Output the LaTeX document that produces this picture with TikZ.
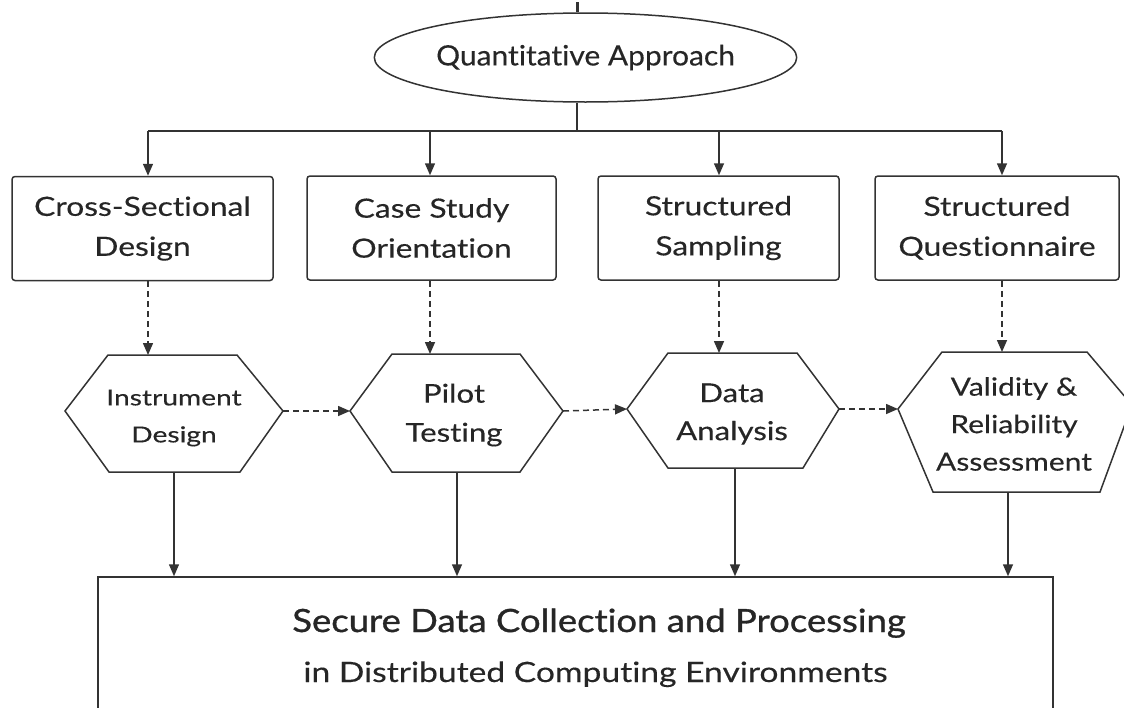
\documentclass[tikz,border=0pt]{standalone}
\usepackage{fontspec}
\defaultfontfeatures{Ligatures=CommonOff}
\setmainfont{Lato}[FakeStretch=1.2,FakeBold=0.3]
\newfontfamily\ellface{Lato}[FakeStretch=1.07,FakeBold=0.3]
\newfontfamily\hexone{Lato}[FakeStretch=1.28,FakeBold=0.3]
\newfontfamily\heavyface{Lato}[FakeStretch=1.14,FakeBold=1]
\usetikzlibrary{arrows.meta,shapes.geometric,calc}
\definecolor{ink}{HTML}{333333}
\definecolor{txt}{HTML}{262626}
\begin{document}
\begin{tikzpicture}[x=1pt,y=-1pt,
  line/.style={draw=ink,line width=1.5pt},
  arr/.style={line,-{Triangle[length=12pt,width=10pt]}},
  dasharr/.style={arr,dash pattern=on 6pt off 4pt},
  box/.style={draw=ink,line width=1.5pt,rounded corners=3pt,inner sep=0pt,
    align=center,text=txt,font=\fontsize{26.5}{40}\selectfont,minimum height=104pt},
  hexline/.style={draw=ink,line width=1.5pt,line join=miter},
  hextext/.style={align=center,text=txt,inner sep=0pt}]
\clip (0,0) rectangle (1124,707);

% top of the chart
\node[ellipse,draw=ink,line width=1.5pt,minimum width=371pt,minimum height=89pt,
  inner sep=0pt,text=txt,font=\ellface\fontsize{28}{28}\selectfont] (ell) at (585.5,57.5)
  {Quantitative Approach};
\coordinate (tick) at (577,2);
\draw[line,line width=3pt] (tick) -- (tick |- ell.north);

% design boxes
\node[box,minimum width=261pt] (b1) at (142.5,228.5) {Cross-Sectional\\Design};
\node[box,minimum width=249pt] (b2) at (431.5,228) {Case Study\\Orientation};
\node[box,minimum width=241pt] (b3) at (718.5,228) {Structured\\Sampling};
\node[box,minimum width=244pt] (b4) at (997,228) {Structured\\Questionnaire};

% distribution bar
\coordinate (hub) at (577,131);
\coordinate (c1) at (148,131);
\coordinate (c2) at (430,131);
\coordinate (c3) at (719,131);
\coordinate (c4) at (1002,131);
\draw[line] (ell.south -| hub) -- (hub);
\draw[line] (c1) -- (c4);
\foreach \i in {1,2,3,4}{\draw[arr] (c\i) -- (c\i |- b\i.north);}

% process hexagons
\draw[hexline] (65,411) coordinate (h1w) -- (108,355) coordinate (h1n) -- (237,355)
  -- (283,411) coordinate (h1e) -- (240,472) -- (109,472) coordinate (h1s) -- cycle;
\draw[hexline] (350,411) coordinate (h2w) -- (392,354) coordinate (h2n) -- (520,354)
  -- (563,411) coordinate (h2e) -- (520,472) -- (392,472) coordinate (h2s) -- cycle;
\draw[hexline] (627,409) coordinate (h3w) -- (668,353) coordinate (h3n) -- (797,353)
  -- (839,409) coordinate (h3e) -- (803,468) -- (668,468) coordinate (h3s) -- cycle;
\draw[hexline] (898,409) coordinate (h4w) -- (942,352) coordinate (h4n) -- (1087,352)
  -- (1132,405) coordinate (h4e) -- (1100,492) -- (933,492) coordinate (h4s) -- cycle;

\node[hextext,font=\hexone\fontsize{22}{37}\selectfont] (x1) at (174,418) {Instrument\\Design};
\node[hextext,font=\fontsize{26}{39}\selectfont] (x2) at (454,415) {Pilot\\Testing};
\node[hextext,font=\fontsize{26}{38}\selectfont] (x3) at (732,414) {Data\\Analysis};
\node[hextext,font=\fontsize{25}{37.5}\selectfont] (x4) at (1014,424) {Validity \&\\Reliability\\Assessment};

% dashed flow
\foreach \i in {1,2,3,4}{\draw[dasharr] (c\i |- b\i.south) -- (c\i |- h\i n);}
\draw[dasharr] (h1e) -- (h2w);
\draw[dasharr] (h2e) -- (h3w);
\draw[dasharr] (h3e) -- (h4w);

% result box
\node[draw=ink,line width=1.5pt,minimum width=955pt,minimum height=200pt,inner sep=0pt]
  (bot) at (575.5,677) {};
\node[anchor=base,text=txt,inner sep=0pt,font=\heavyface\fontsize{32}{32}\selectfont]
  (r1) at (599,632) {Secure Data Collection and Processing};
\node[anchor=base,text=txt,inner sep=0pt,font=\fontsize{28}{28}\selectfont]
  (r2) at (595.5,682) {in Distributed Computing Environments};

\coordinate (d1) at (174,472);
\coordinate (d2) at (457,472);
\coordinate (d3) at (735,468);
\coordinate (d4) at (1008,492);
\foreach \i in {1,2,3,4}{\draw[arr] (d\i) -- (d\i |- bot.north);}
\end{tikzpicture}
\end{document}
